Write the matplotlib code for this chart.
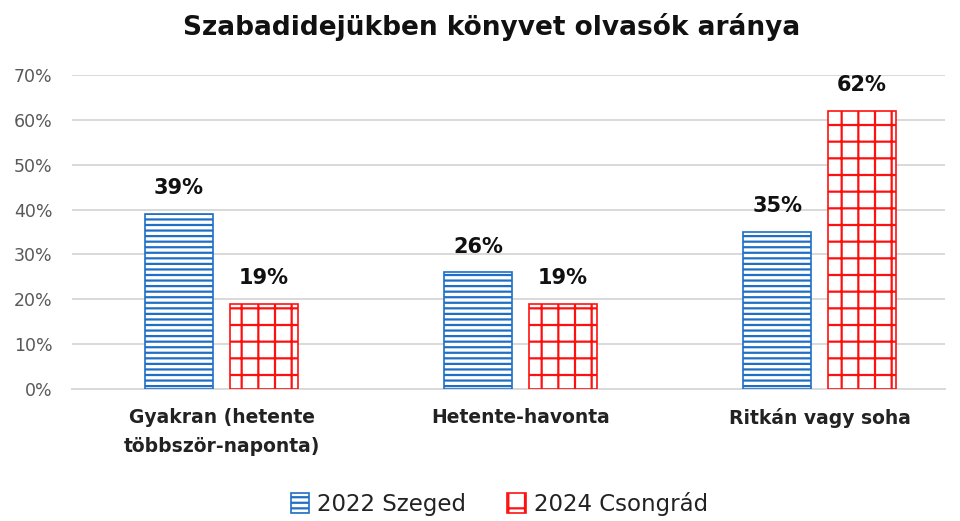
import numpy as np
import matplotlib
matplotlib.use("Agg")
import matplotlib.pyplot as plt

categories = ["Gyakran (hetente\ntöbbször-naponta)", "Hetente-havonta", "Ritkán vagy soha"]
series_names = ["2022 Szeged", "2024 Csongrád"]
szeged_2022 = [0.39, 0.26, 0.35]
csongrad_2024 = [0.19, 0.19, 0.62]
yticks = [0, 0.1, 0.2, 0.3, 0.4, 0.5, 0.6, 0.7]

blue = "#1F6FC5"
red = "#FF1010"

plt.rcParams['font.family'] = ['DejaVu Sans']
plt.rcParams['hatch.linewidth'] = 1.6

fig = plt.figure(figsize=(9.6, 5.21), dpi=100)
ax = fig.add_axes([0.075, 0.2534, 0.909, 0.6026])

x = np.arange(len(categories))
w = 0.227
off = 0.142

b1 = ax.bar(x - off, szeged_2022, w, facecolor="white", edgecolor=blue,
            hatch="---", linewidth=1.2, label=series_names[0], zorder=3)
b2 = ax.bar(x + off, csongrad_2024, w, facecolor="white", edgecolor=red,
            hatch="+", linewidth=1.2, label=series_names[1], zorder=3)

for bars, vals in [(b1, szeged_2022), (b2, csongrad_2024)]:
    for rect, v in zip(bars, vals):
        ax.text(rect.get_x() + rect.get_width() / 2, v + 0.035, f"{v * 100:.0f}%",
                ha="center", va="bottom", fontsize=15, fontweight="bold", color="#111111")

ax.set_xlim(-0.5, 2.418)
ax.set_ylim(0, 0.7)
ax.set_yticks(yticks)
ax.set_yticklabels([f"{t * 100:.0f}%" for t in yticks], fontsize=12.5, color="#595959")
ax.set_xticks(x)
ax.set_xticklabels(categories, fontsize=13.5, fontweight="semibold", color="#222222",
                   linespacing=1.65)
ax.tick_params(length=0)
ax.tick_params(axis="y", pad=14)
ax.tick_params(axis="x", pad=14)
ax.grid(axis="y", color="#D9D9D9", linewidth=1.4, zorder=0)
for s in ["top", "right", "left"]:
    ax.spines[s].set_visible(False)
ax.spines["bottom"].set_color("#D9D9D9")
ax.spines["bottom"].set_linewidth(1.4)

fig.suptitle("Szabadidejükben könyvet olvasók aránya", fontsize=19, fontweight="bold",
             y=0.975, x=0.512, color="#111111")

fig.legend(handles=[b1, b2], loc="lower center", bbox_to_anchor=(0.52, -0.03), ncol=2,
           frameon=False, fontsize=16.5, handlelength=0.8, handleheight=1.0,
           handletextpad=0.35, columnspacing=1.8, labelcolor="#222222")

fig.savefig("out.png", dpi=100)
